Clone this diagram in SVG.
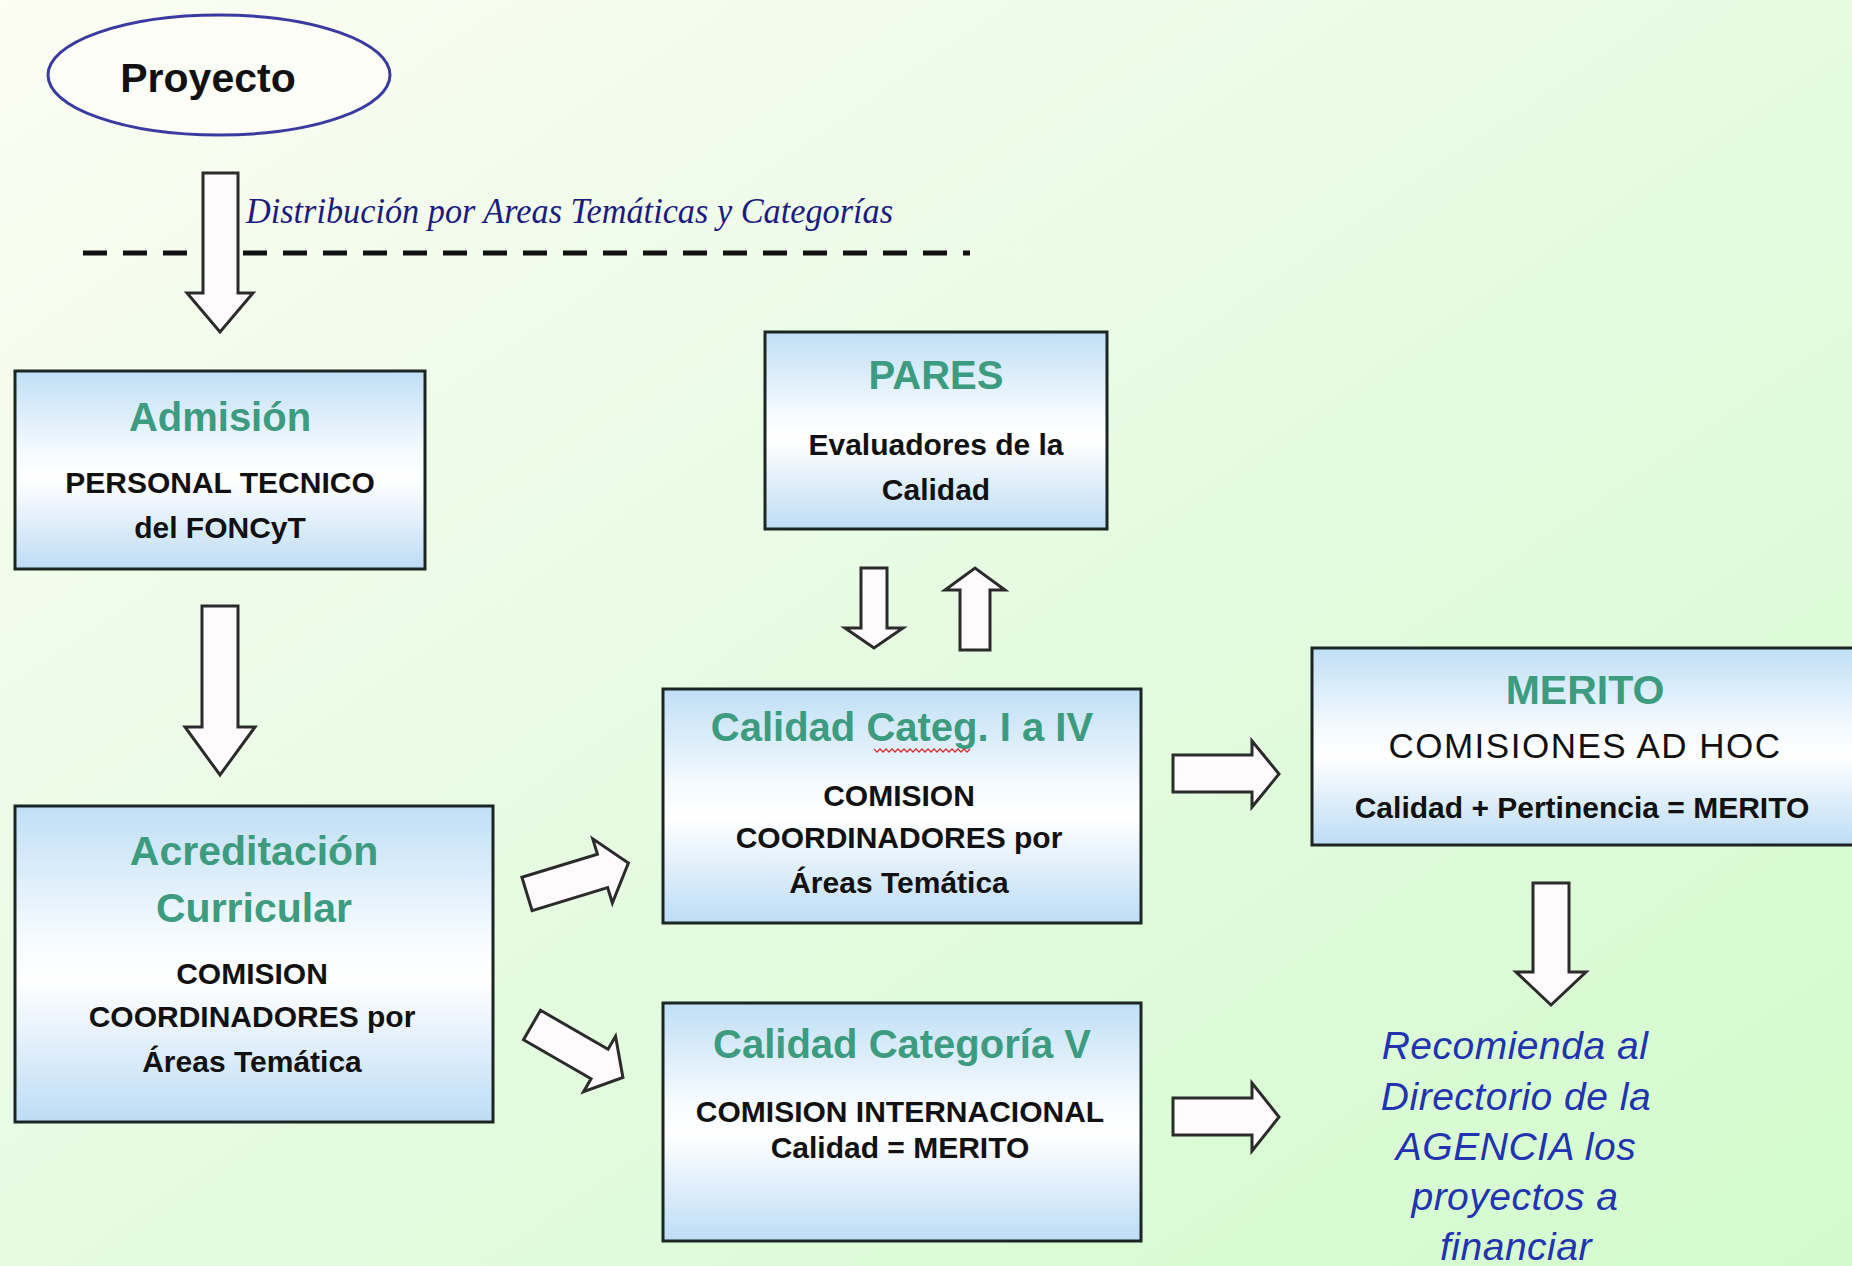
<svg xmlns="http://www.w3.org/2000/svg" width="1852" height="1266" viewBox="0 0 1852 1266">
<defs>
<linearGradient id="bg" x1="0" y1="0" x2="1" y2="1">
<stop offset="0" stop-color="#fcfdf3"/>
<stop offset="0.45" stop-color="#e8fbe4"/>
<stop offset="1" stop-color="#d2fbcc"/>
</linearGradient>
<linearGradient id="boxg" x1="0" y1="0" x2="0" y2="1">
<stop offset="0" stop-color="#c0dff5"/>
<stop offset="0.42" stop-color="#f6fbff"/>
<stop offset="0.55" stop-color="#ffffff"/>
<stop offset="1" stop-color="#bddcf5"/>
</linearGradient>
<style>
.box{fill:url(#boxg);stroke:#1b2623;stroke-width:3}
.title{font-family:"Liberation Sans",Arial,sans-serif;font-weight:bold;font-size:40px;fill:#3d9b7f;text-anchor:middle}
.body{font-family:"Liberation Sans",Arial,sans-serif;font-weight:bold;font-size:30px;fill:#111;text-anchor:middle}
.arrow{fill:#fffbfd;stroke:#2b2b2b;stroke-width:3;stroke-linejoin:miter}
.blue{font-family:"Liberation Sans",Arial,sans-serif;font-style:italic;font-size:39px;fill:#2233b0;text-anchor:middle;letter-spacing:0.5px}
</style>
</defs>
<rect x="0" y="0" width="1852" height="1266" fill="url(#bg)"/>

<line x1="83" y1="253" x2="970" y2="253" stroke="#111" stroke-width="5" stroke-dasharray="24 16"/>

<g id="proyecto">
<ellipse cx="219" cy="75" rx="171" ry="60" fill="#fbfdf6" stroke="#3a3aa0" stroke-width="3"/>
<text x="208" y="92" font-family="'Liberation Sans',Arial,sans-serif" font-weight="bold" font-size="41" fill="#111" text-anchor="middle">Proyecto</text>
</g>

<text x="246" y="223" font-family="'Liberation Serif','Times New Roman',serif" font-style="italic" font-size="36" fill="#1c1c80" textLength="647" lengthAdjust="spacingAndGlyphs">Distribución por Areas Temáticas y Categorías</text>

<g id="admision">
<rect class="box" x="15" y="371" width="410" height="198"/>
<text class="title" x="220" y="431">Admisión</text>
<text class="body" x="220" y="493">PERSONAL TECNICO</text>
<text class="body" x="220" y="538">del FONCyT</text>
</g>

<g id="acreditacion">
<rect class="box" x="15" y="806" width="478" height="316"/>
<text class="title" x="254" y="865" font-size="41" style="font-size:41px">Acreditación</text>
<text class="title" x="254" y="922" style="font-size:41px">Curricular</text>
<text class="body" x="252" y="984">COMISION</text>
<text class="body" x="252" y="1027">COORDINADORES por</text>
<text class="body" x="252" y="1072">Áreas Temática</text>
</g>

<g id="pares">
<rect class="box" x="765" y="332" width="342" height="197"/>
<text class="title" x="936" y="389">PARES</text>
<text class="body" x="936" y="455">Evaluadores de la</text>
<text class="body" x="936" y="500">Calidad</text>
</g>

<g id="calidad-categ">
<rect class="box" x="663" y="689" width="478" height="234"/>
<text class="title" x="902" y="741">Calidad Categ. I a IV</text>
<path d="M874,749 l3,3 l3,-3 l3,3 l3,-3 l3,3 l3,-3 l3,3 l3,-3 l3,3 l3,-3 l3,3 l3,-3 l3,3 l3,-3 l3,3 l3,-3 l3,3 l3,-3 l3,3 l3,-3 l3,3 l3,-3 l3,3 l3,-3 l3,3 l3,-3 l3,3 l3,-3 l3,3 l3,-3 l3,3 l3,-3" fill="none" stroke="#d03030" stroke-width="1.3"/>
<text class="body" x="899" y="806">COMISION</text>
<text class="body" x="899" y="848">COORDINADORES por</text>
<text class="body" x="899" y="893">Áreas Temática</text>
</g>

<g id="calidad-v">
<rect class="box" x="663" y="1003" width="478" height="238"/>
<text class="title" x="902" y="1058">Calidad Categoría V</text>
<text class="body" x="900" y="1122">COMISION INTERNACIONAL</text>
<text class="body" x="900" y="1158">Calidad = MERITO</text>
</g>

<g id="merito">
<rect class="box" x="1312" y="648" width="548" height="197"/>
<text class="title" x="1585" y="704" style="font-size:41px">MERITO</text>
<text x="1585" y="758" font-family="'Liberation Sans',Arial,sans-serif" font-size="35" fill="#111" text-anchor="middle" letter-spacing="1.5">COMISIONES AD HOC</text>
<text class="body" x="1582" y="818">Calidad + Pertinencia = MERITO</text>
</g>

<g id="recomienda">
<text class="blue" x="1515" y="1059">Recomienda al</text>
<text class="blue" x="1516" y="1110">Directorio de la</text>
<text class="blue" x="1516" y="1160">AGENCIA los</text>
<text class="blue" x="1515" y="1210">proyectos a</text>
<text class="blue" x="1516" y="1260">financiar</text>
</g>

<g id="connectors">
<path class="arrow" d="M203,173 H238 V293 H253 L220,332 L187,293 H203 Z"/>
<path class="arrow" d="M202,606 H238 V727 H255 L220,775 L185,727 H202 Z"/>
<path class="arrow" d="M861,568 H887 V628 H903 L874,648 L845,628 H861 Z"/>
<path class="arrow" d="M960,650 H990 V590 H1005 L975,568 L945,590 H960 Z"/>
<path class="arrow" d="M1173,755 H1252 V741 L1279,774 L1252,807 V792 H1173 Z"/>
<path class="arrow" d="M1173,1098 H1252 V1083 L1279,1117 L1252,1151 V1135 H1173 Z"/>
<path class="arrow" d="M1533,883 H1569 V972 H1586 L1551,1005 L1516,972 H1533 Z"/>
<path class="arrow" d="M0,-17.5 H79 V-33.5 L106,0 L79,33.5 V17.5 H0 Z" transform="translate(527,894) rotate(-17)"/>
<path class="arrow" d="M0,-17 H78 V-32 L105,0 L78,32 V17 H0 Z" transform="translate(532,1025) rotate(30)"/>
</g>
</svg>
